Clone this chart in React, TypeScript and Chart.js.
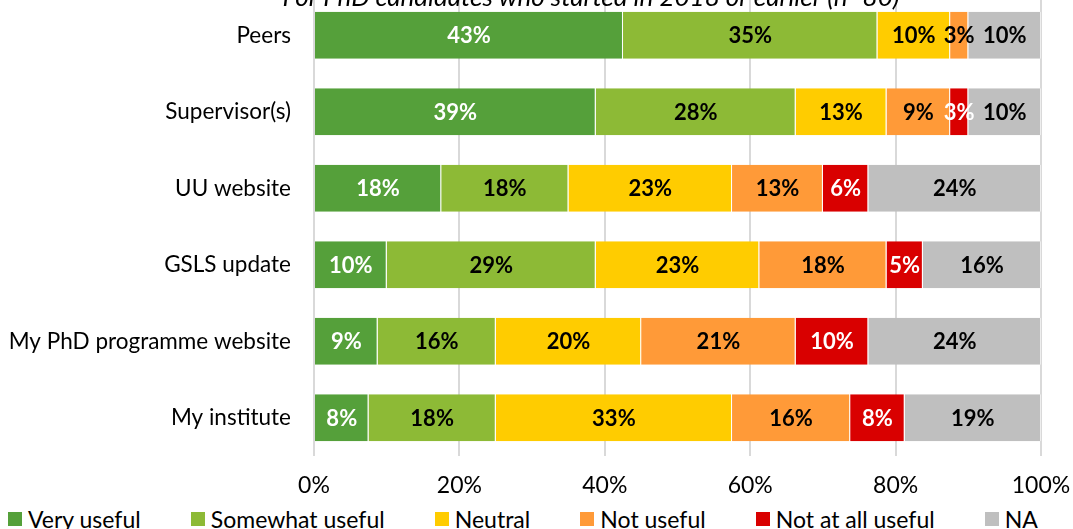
import React, { useEffect, useRef } from "react";
import { Chart, registerables } from "chart.js";

Chart.register(...registerables);

const TITLE = "For PhD candidates who started in 2018 or earlier (n=80)";
const CATEGORIES = [
  "Peers",
  "Supervisor(s)",
  "UU website",
  "GSLS update",
  "My PhD programme website",
  "My institute",
];
const SERIES_NAMES = [
  "Very useful",
  "Somewhat useful",
  "Neutral",
  "Not useful",
  "Not at all useful",
  "NA",
];
const VERY_USEFUL = [42.5, 38.75, 17.5, 10, 8.75, 7.5];
const SOMEWHAT_USEFUL = [35, 27.5, 17.5, 28.75, 16.25, 17.5];
const NEUTRAL = [10, 12.5, 22.5, 22.5, 20, 32.5];
const NOT_USEFUL = [2.5, 8.75, 12.5, 17.5, 21.25, 16.25];
const NOT_AT_ALL_USEFUL = [0, 2.5, 6.25, 5, 10, 7.5];
const NA = [10, 10, 23.75, 16.25, 23.75, 18.75];
const X_TICKS = [0, 20, 40, 60, 80, 100];

const SERIES_VALUES = [VERY_USEFUL, SOMEWHAT_USEFUL, NEUTRAL, NOT_USEFUL, NOT_AT_ALL_USEFUL, NA];
const COLORS = ["#55A03A", "#8DBA36", "#FFCC00", "#FF9A38", "#D90000", "#BFBFBF"];
const LABEL_COLORS = ["#FFFFFF", "#000000", "#000000", "#000000", "#FFFFFF", "#000000"];

const FONT = "Lato";

const barLabelPlugin = {
  id: "barLabels",
  afterDatasetsDraw(chart: any) {
    const ctx = chart.ctx;
    ctx.save();
    ctx.font = `bold 22px ${FONT}`;
    ctx.textAlign = "center";
    ctx.textBaseline = "middle";
    chart.data.datasets.forEach((ds: any, i: number) => {
      const meta = chart.getDatasetMeta(i);
      meta.data.forEach((el: any, j: number) => {
        const v = ds.data[j];
        if (!v) return;
        const p = el.getProps(["x", "y", "base"], true);
        ctx.fillStyle = LABEL_COLORS[i];
        ctx.fillText(Math.round(v) + "%", (p.x + p.base) / 2, p.y + 1);
      });
    });
    ctx.restore();
  },
};

const zeroPadding = (scale: any) => {
  scale.paddingTop = 0;
  scale.paddingBottom = 0;
  scale.paddingLeft = 0;
  scale.paddingRight = 0;
};

export default function App() {
  const ref = useRef<HTMLCanvasElement | null>(null);

  useEffect(() => {
    if (!ref.current) return;
    const chart = new Chart(ref.current, {
      type: "bar",
      data: {
        labels: CATEGORIES,
        datasets: SERIES_NAMES.map((name, i) => ({
          label: name,
          data: SERIES_VALUES[i],
          backgroundColor: COLORS[i],
          borderColor: "rgba(255,255,255,0.55)",
          borderWidth: { top: 0, bottom: 0, left: 0, right: 1 },
          borderSkipped: false,
          categoryPercentage: 1,
          barPercentage: 0.613,
        })),
      },
      options: {
        indexAxis: "y",
        animation: false,
        responsive: true,
        maintainAspectRatio: false,
        layout: { padding: { left: 0, right: 32, top: 7, bottom: 2 } },
        plugins: {
          legend: { display: false },
          title: { display: false },
          tooltip: { enabled: false },
        },
        scales: {
          x: {
            stacked: true,
            min: 0,
            max: 100,
            afterBuildTicks: (scale: any) => {
              scale.ticks = X_TICKS.map((v) => ({ value: v }));
            },
            afterFit: (scale: any) => {
              scale.height = 44;
              zeroPadding(scale);
            },
            grid: { color: "#D9D9D9", lineWidth: 2, drawTicks: false },
            border: { display: false },
            ticks: {
              padding: 16,
              color: "#000",
              font: { family: FONT, size: 23 },
              callback: (v: any) => v + "%",
            },
          },
          y: {
            stacked: true,
            grid: { display: false, drawTicks: false },
            border: { display: false },
            afterFit: (scale: any) => {
              scale.width = 314;
              zeroPadding(scale);
            },
            ticks: {
              padding: 23,
              color: "#000",
              font: { family: FONT, size: 22.5 },
            },
          },
        },
      },
      plugins: [barLabelPlugin],
    });
    return () => chart.destroy();
  }, []);

  return (
    <div
      style={{
        position: "fixed",
        left: 0,
        top: 0,
        width: 1073,
        height: 529,
        overflow: "hidden",
        background: "#fff",
      }}
    >
      <div style={{ position: "absolute", left: 0, top: -10, width: 1073, height: 512 }}>
        <canvas ref={ref} />
      </div>
      <div
        style={{
          position: "absolute",
          left: 591,
          top: -15,
          transform: "translateX(-50%)",
          whiteSpace: "nowrap",
          font: `italic 26px ${FONT}`,
          lineHeight: "23px",
          color: "#000",
        }}
      >
        {TITLE}
      </div>
      <div
        style={{
          position: "absolute",
          left: 8,
          width: 1030,
          top: 507,
          height: 24,
          display: "flex",
          justifyContent: "space-between",
          alignItems: "center",
        }}
      >
        {SERIES_NAMES.map((name, i) => (
          <div key={name} style={{ display: "flex", alignItems: "center" }}>
            <span
              style={{
                display: "inline-block",
                width: 14,
                height: 14,
                background: COLORS[i],
                marginRight: 6,
              }}
            />
            <span style={{ font: `23px ${FONT}`, lineHeight: "24px", color: "#000" }}>{name}</span>
          </div>
        ))}
      </div>
    </div>
  );
}
